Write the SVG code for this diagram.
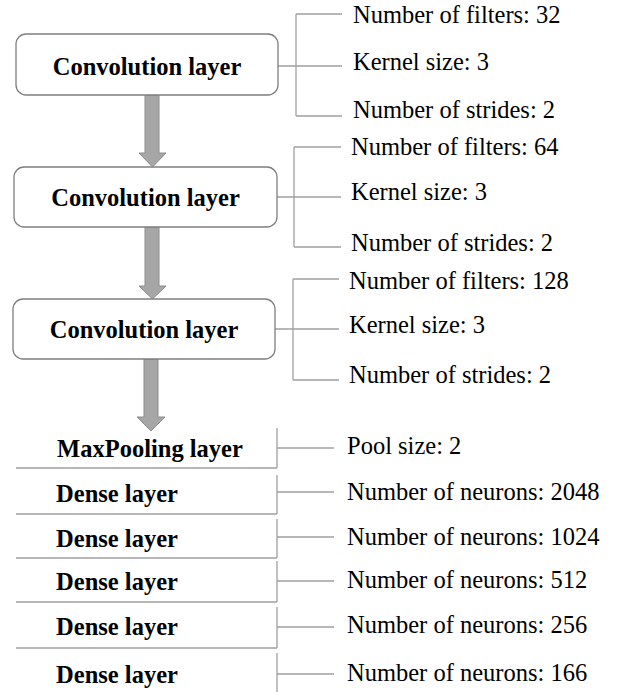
<svg xmlns="http://www.w3.org/2000/svg" width="625" height="692" viewBox="0 0 625 692">
<style>
.box{fill:#fff;stroke:#7f7f7f;stroke-width:1.3}
.ln{fill:none;stroke:#a0a0a0;stroke-width:1.3}
.arr{fill:#a6a6a6;stroke:#8c8c8c;stroke-width:1}
.t{font-family:"Liberation Serif","Times New Roman",serif;font-size:24.5px;fill:#000}
.b{font-weight:bold;text-anchor:middle}
</style>
<rect width="625" height="692" fill="#fff"/>
<g id="connectors">
<path class="arr" d="M145,95 V153 H139 L152.5,167 L166,153 H159 V95 Z"/>
<path class="arr" d="M145,227 V286 H139 L152.5,299 L166,286 H159 V227 Z"/>
<path class="arr" d="M144,359 V417 H137 L151,431 L165,417 H158 V359 Z"/>
<path class="ln" d="M278,66 H342 M296,14 V116 M296,14 H342 M296,116 H342"/>
<path class="ln" d="M277,197 H341 M294,147 V247 M294,147 H341 M294,247 H341"/>
<path class="ln" d="M275,329 H339 M293,279 V380 M293,279 H339 M293,380 H339"/>
<path class="ln" d="M277,448 H334 M277,492 H334 M277,537 H334 M277,581 H334 M277,627 H334 M277,674 H334"/>
</g>
<g id="conv1"><rect class="box" x="16" y="34" width="262" height="61" rx="10"/><text class="t b" x="147" y="75">Convolution layer</text></g>
<g id="conv2"><rect class="box" x="14" y="167" width="263" height="60" rx="10"/><text class="t b" x="145.5" y="206">Convolution layer</text></g>
<g id="conv3"><rect class="box" x="13" y="299" width="262" height="60" rx="10"/><text class="t b" x="144" y="338">Convolution layer</text></g>
<g id="params1">
<text class="t" x="353" y="23">Number of filters: 32</text>
<text class="t" x="353" y="70">Kernel size: 3</text>
<text class="t" x="353" y="118">Number of strides: 2</text>
</g>
<g id="params2">
<text class="t" x="351" y="155">Number of filters: 64</text>
<text class="t" x="351" y="200">Kernel size: 3</text>
<text class="t" x="351" y="251">Number of strides: 2</text>
</g>
<g id="params3">
<text class="t" x="349" y="289">Number of filters: 128</text>
<text class="t" x="349" y="333">Kernel size: 3</text>
<text class="t" x="349" y="383">Number of strides: 2</text>
</g>
<g id="maxpool"><path class="ln" d="M16,468 H277 M277,428 V468"/><text class="t b" x="150" y="457">MaxPooling layer</text><text class="t" x="347" y="454">Pool size: 2</text></g>
<g id="dense1"><path class="ln" d="M16,514 H277 M277,475 V514"/><text class="t b" x="117" y="502">Dense layer</text><text class="t" x="347" y="500">Number of neurons: 2048</text></g>
<g id="dense2"><path class="ln" d="M16,558 H277 M277,519 V558"/><text class="t b" x="117" y="547">Dense layer</text><text class="t" x="347" y="545">Number of neurons: 1024</text></g>
<g id="dense3"><path class="ln" d="M16,602 H277 M277,561 V602"/><text class="t b" x="117" y="590">Dense layer</text><text class="t" x="347" y="588">Number of neurons: 512</text></g>
<g id="dense4"><path class="ln" d="M16,648 H277 M277,607 V648"/><text class="t b" x="117" y="635">Dense layer</text><text class="t" x="347" y="633">Number of neurons: 256</text></g>
<g id="dense5"><path class="ln" d="M277,653 V692"/><text class="t b" x="117" y="683">Dense layer</text><text class="t" x="347" y="681">Number of neurons: 166</text></g>
</svg>
